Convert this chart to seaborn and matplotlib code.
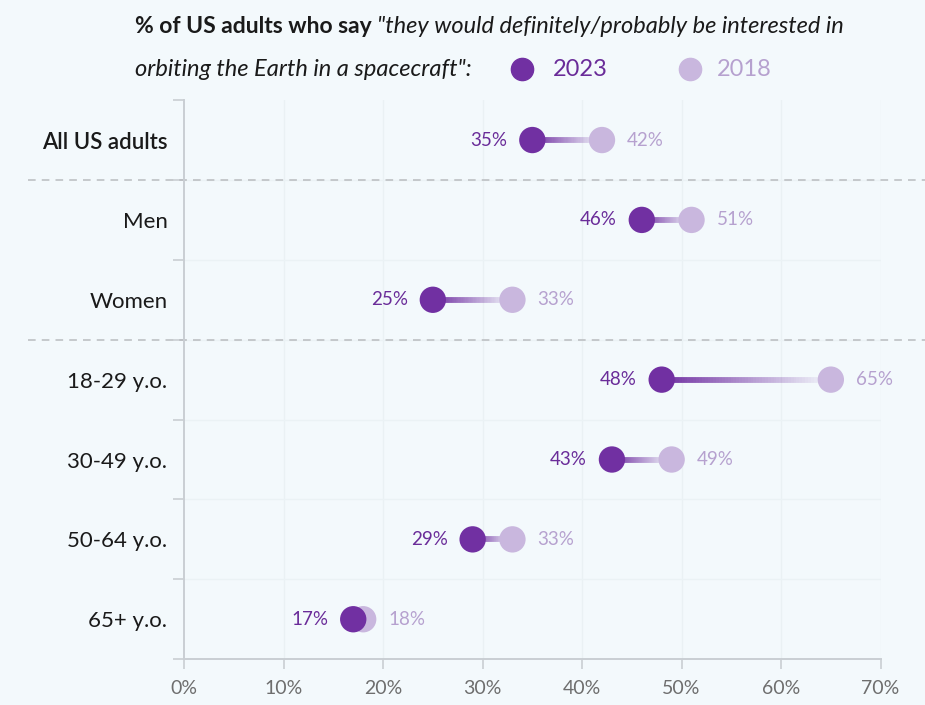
import numpy as np
import pandas as pd
import matplotlib
matplotlib.use("Agg")
import matplotlib.pyplot as plt
from matplotlib.collections import LineCollection
from matplotlib.lines import Line2D
from matplotlib.colors import to_rgba
import seaborn as sns

# data
groups = ["All US adults", "Men", "Women", "18-29 y.o.", "30-49 y.o.", "50-64 y.o.", "65+ y.o."]
vals_2023 = [35, 46, 25, 48, 43, 29, 17]
vals_2018 = [42, 51, 33, 65, 49, 33, 18]
x_ticks = [0, 10, 20, 30, 40, 50, 60, 70]

dark = "#7130A2"
light = "#C9B7DE"
dark_txt = "#6A2C99"
light_txt = "#B6A1CF"
bg = "#F3F9FC"

sns.set_theme(style="white")
plt.rcParams["font.family"] = ["Lato", "DejaVu Sans"]

df = pd.DataFrame({
    "group": groups * 2,
    "pos": list(range(len(groups))) * 2,
    "year": ["2023"] * len(groups) + ["2018"] * len(groups),
    "value": vals_2023 + vals_2018,
})

fig = plt.figure(figsize=(9.25, 7.05), dpi=100, facecolor=bg)
ax = fig.add_axes([0.199, 0.065, 0.753, 0.793], facecolor=bg)

# gradient connectors: dark at 2023 end, fading towards 2018
for i, (a, b) in enumerate(zip(vals_2023, vals_2018)):
    xs = np.linspace(a, b, 60)
    pts = np.array([xs, np.full_like(xs, i)]).T.reshape(-1, 1, 2)
    segs = np.concatenate([pts[:-1], pts[1:]], axis=1)
    c0 = np.array(to_rgba(dark))
    alphas = np.linspace(1.0, 0.0, len(segs))
    cols = np.tile(c0, (len(segs), 1))
    cols[:, 3] = alphas
    lc = LineCollection(segs, colors=cols, linewidths=4.2, capstyle="butt", zorder=2)
    ax.add_collection(lc)

# light dots first so dark sit on top
sns.scatterplot(data=df[df.year == "2018"], x="value", y="pos", color=light, s=360,
                edgecolor="none", ax=ax, zorder=3, legend=False)
sns.scatterplot(data=df[df.year == "2023"], x="value", y="pos", color=dark, s=360,
                edgecolor="none", ax=ax, zorder=4, legend=False)

for i, (a, b) in enumerate(zip(vals_2023, vals_2018)):
    ax.annotate(f"{a}%", (a, i), xytext=(-18, 0), textcoords="offset points",
                ha="right", va="center", fontsize=13.5, color=dark_txt)
    ax.annotate(f"{b}%", (b, i), xytext=(18, 0), textcoords="offset points",
                ha="left", va="center", fontsize=13.5, color=light_txt)

ax.set_xlim(0, 70)
ax.set_ylim(6.5, -0.5)
ax.set_xticks(x_ticks)
ax.set_xticklabels([f"{t}%" for t in x_ticks])
ax.set_yticks(range(len(groups)))
ax.set_yticklabels(groups)
ax.set_yticks(np.arange(-0.5, len(groups), 1), minor=True)
ax.set_xlabel("")
ax.set_ylabel("")

ax.tick_params(axis="y", which="major", length=0, pad=12, labelsize=16, labelcolor="#1a1a1a")
ax.tick_params(axis="y", which="minor", length=8, width=1.2, color="#C9CED3", left=True)
ax.tick_params(axis="x", which="major", length=7, width=1.2, color="#C9CED3", bottom=True,
               labelsize=14, labelcolor="#6E6E6E", pad=8)
ax.get_yticklabels()[0].set_fontweight("semibold")

for side in ["top", "right"]:
    ax.spines[side].set_visible(False)
for side in ["left", "bottom"]:
    ax.spines[side].set_color("#C9CED3")
    ax.spines[side].set_linewidth(1.4)

# faint grid
for t in x_ticks[1:]:
    ax.axvline(t, color="#EAF1F4", lw=1, zorder=0)
for yb in np.arange(0.5, len(groups) - 0.5, 1):
    ax.axhline(yb, color="#EBF2F5", lw=1, zorder=0)

# dashed separators reaching across the whole figure
for yb in [0.5, 2.5]:
    ax.plot([-0.224, 1.07], [yb, yb], transform=ax.get_yaxis_transform(), clip_on=False,
            color="#B9BCBF", lw=1.1, ls=(0, (5, 4)), zorder=1)

# title, built from pieces
fig.canvas.draw()
r = fig.canvas.get_renderer()
x0, y1, y2 = 0.146, 0.962, 0.902
t1 = fig.text(x0, y1, "% of US adults who say ", fontsize=16.5, fontweight="bold",
              color="#1a1a1a", va="center")
w1 = t1.get_window_extent(r).width / fig.bbox.width
fig.text(x0 + w1, y1, "\"they would definitely/probably be interested in", fontsize=17,
         style="italic", color="#1a1a1a", va="center")
fig.text(x0, y2, "orbiting the Earth in a spacecraft\":", fontsize=17, style="italic",
         color="#1a1a1a", va="center")

# inline legend
fig.add_artist(Line2D([0.564], [y2], marker="o", ms=16, color=dark, lw=0,
                      transform=fig.transFigure))
fig.text(0.598, y2, "2023", fontsize=17, color=dark_txt, va="center")
fig.add_artist(Line2D([0.746], [y2], marker="o", ms=16, color=light, lw=0,
                      transform=fig.transFigure))
fig.text(0.775, y2, "2018", fontsize=17, color=light_txt, va="center")

fig.savefig("out.png", dpi=100, facecolor=bg)
